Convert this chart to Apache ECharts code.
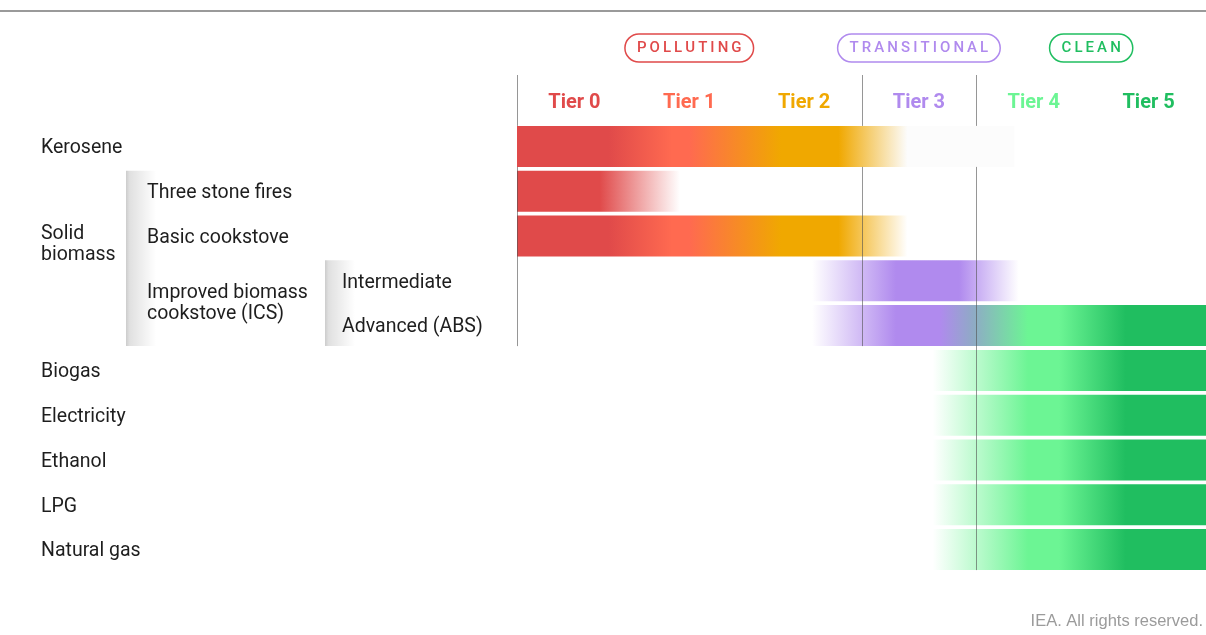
<!DOCTYPE html>
<html>
<head>
<meta charset="utf-8">
<title>Cooking tiers</title>
<script src="https://cdn.jsdelivr.net/npm/echarts@6/dist/echarts.min.js"></script>
<style>
  html, body { margin: 0; padding: 0; background: #fff; }
  #chart { width: 1206px; height: 635px; }
</style>
</head>
<body>
<div id="chart"></div>
<script>
// Cooking fuels and stoves placed on the tier scale (0 = most polluting, 5 = cleanest)
const fuels = ['Kerosene', 'Three stone fires', 'Basic cookstove', 'Intermediate', 'Advanced (ABS)',
               'Biogas', 'Electricity', 'Ethanol', 'LPG', 'Natural gas'];
// Tier span covered by each row's band, in tier units (bands fade out towards their open ends)
const tierFrom = [0, 0, 0, 2.57, 2.57, 3.62, 3.62, 3.62, 3.62, 3.62];
const tierTo   = [4.33, 1.42, 3.4, 4.37, 6, 6, 6, 6, 6, 6];

const tiers = ['Tier 0', 'Tier 1', 'Tier 2', 'Tier 3', 'Tier 4', 'Tier 5'];

const groups    = ['POLLUTING', 'TRANSITIONAL', 'CLEAN'];
const groupFrom = [0, 3, 4];
const groupTo   = [3, 4, 6];

// Tier boundaries drawn as rules, and the last row each rule runs down to
const boundaries      = [0, 3, 4];
const boundaryLastRow = [4, 4, 9];

// Row label tree: text, nesting level and row position it is centred on
const labelText  = ['Kerosene', 'Solid\nbiomass', 'Three stone fires', 'Basic cookstove',
                    'Improved biomass\ncookstove (ICS)', 'Intermediate', 'Advanced (ABS)',
                    'Biogas', 'Electricity', 'Ethanol', 'LPG', 'Natural gas'];
const labelLevel = [0, 0, 1, 1, 1, 2, 2, 0, 0, 0, 0, 0];
const labelRow   = [0, 2.15, 1, 2, 3.46, 3, 4, 5, 6, 7, 8, 9];

// Shaded brackets that group the sub-rows
const bracketLevel = [1, 2];
const bracketFrom  = [1, 3];
const bracketTo    = [4, 4];

// ---- styling ----
const RED = '#E04A4A', CORAL = '#FF6A50', ORANGE = '#F0A800',
      PURPLE = '#B08AEE', MINT = '#6CF594', GREEN = '#20BE60';
const tierColors  = [RED, CORAL, ORANGE, PURPLE, MINT, GREEN];
const groupColors = [RED, PURPLE, GREEN];

// Colour ramps along the tier axis: [tier, colour]
const ramps = {
  kerosene: [[0, RED], [0.8, RED], [1.35, CORAL], [1.5, CORAL], [2.3, ORANGE], [2.8, ORANGE],
             [3.4, '#fcfcfc'], [4.33, '#fcfcfc']],
  threeStone: [[0, RED], [0.72, RED], [1.42, 'rgba(224,74,74,0)']],
  basic: [[0, RED], [0.8, RED], [1.35, CORAL], [1.5, CORAL], [2.3, ORANGE], [2.8, ORANGE],
          [3.4, 'rgba(240,168,0,0)']],
  intermediate: [[2.57, 'rgba(176,138,238,0)'], [3.3, PURPLE], [3.85, PURPLE], [4.37, 'rgba(176,138,238,0)']],
  advanced: [[2.57, 'rgba(176,138,238,0)'], [3.3, PURPLE], [3.68, PURPLE], [3.97, '#8FAAC6'],
             [4.45, MINT], [4.72, MINT], [5.3, GREEN], [6, GREEN]],
  clean: [[3.62, 'rgba(108,245,148,0)'], [4.45, MINT], [4.72, MINT], [5.3, GREEN], [6, GREEN]]
};
const rowRamp = ['kerosene', 'threeStone', 'basic', 'intermediate', 'advanced',
                 'clean', 'clean', 'clean', 'clean', 'clean'];

const BAR_RATIO = 0.915;
const HEADER_H = 49;         // header band above the first row (tier names)
const levelX = [41, 147, 342];
const bracketX = [0, 126, 325];
const LABEL_FONT = '400 19.5px Roboto, "Noto Sans", sans-serif';

const clamp01 = v => Math.max(0, Math.min(1, v));
const crisp = x => Math.round(x) + 0.5;

function renderBand(params, api) {
  const i = params.dataIndex;
  const from = api.value(0), row = api.value(1), to = api.value(2);
  const p0 = api.coord([from, row]);
  const p1 = api.coord([to, row]);
  const h = api.size([0, 1])[1] * BAR_RATIO;
  const stops = ramps[rowRamp[i]].map(([t, c]) => ({ offset: clamp01((t - from) / (to - from)), color: c }));
  return {
    type: 'rect',
    shape: { x: p0[0], y: p0[1] - h / 2, width: p1[0] - p0[0], height: h },
    style: { fill: new echarts.graphic.LinearGradient(0, 0, 1, 0, stops) }
  };
}

function renderRule(params, api) {
  const x = crisp(api.coord([api.value(0), 0])[0]);
  const h = api.size([0, 1])[1] * BAR_RATIO;
  const firstY = api.coord([0, 0])[1];
  const endY = api.coord([0, api.value(1)])[1] + h / 2;
  const top = params.coordSys.y - HEADER_H;
  const st = { stroke: 'rgba(80,80,80,0.6)', lineWidth: 1 };
  return {
    type: 'group',
    children: [
      { type: 'line', shape: { x1: x, y1: top, x2: x, y2: firstY - h / 2 }, style: st },
      { type: 'line', shape: { x1: x, y1: firstY + h / 2, x2: x, y2: endY }, style: st }
    ]
  };
}

function renderTierLabel(params, api) {
  const i = params.dataIndex;
  const x = api.coord([api.value(0), 0])[0];
  const y = params.coordSys.y - 21;
  return {
    type: 'text',
    style: {
      text: tiers[i], x: x, y: y, align: 'center', verticalAlign: 'middle',
      font: '700 20px Roboto, sans-serif', fill: tierColors[i]
    }
  };
}

function renderGroup(params, api) {
  const i = params.dataIndex;
  const x0 = api.coord([api.value(0), 0])[0];
  const x1 = api.coord([api.value(1), 0])[0];
  const y = params.coordSys.y - 76;
  const spaced = groups[i].split('').join('\u2009');
  return {
    type: 'text',
    style: {
      text: spaced, x: (x0 + x1) / 2, y: y, align: 'center', verticalAlign: 'middle',
      font: '500 15px Roboto, sans-serif', fill: groupColors[i],
      lineHeight: 17, padding: [6, 12, 5, 12],
      borderColor: groupColors[i], borderWidth: 1.5, borderRadius: 15
    }
  };
}

function renderRowLabel(params, api) {
  const i = params.dataIndex;
  const y = api.coord([0, api.value(1)])[1] + 2;
  return {
    type: 'text',
    style: {
      text: labelText[i], x: levelX[labelLevel[i]], y: y,
      align: 'left', verticalAlign: 'middle',
      font: LABEL_FONT, fill: '#1e1e1e', lineHeight: 21.5
    }
  };
}

function renderBracket(params, api) {
  const i = params.dataIndex;
  const h = api.size([0, 1])[1] * BAR_RATIO;
  const y0 = api.coord([0, api.value(0)])[1] - h / 2;
  const y1 = api.coord([0, api.value(1)])[1] + h / 2;
  return {
    type: 'rect',
    shape: { x: bracketX[bracketLevel[i]], y: y0, width: 30, height: y1 - y0 },
    style: {
      fill: new echarts.graphic.LinearGradient(0, 0, 1, 0, [
        { offset: 0, color: 'rgba(0,0,0,0.2)' },
        { offset: 0.12, color: 'rgba(0,0,0,0.12)' },
        { offset: 1, color: 'rgba(0,0,0,0)' }
      ])
    }
  };
}

const chart = echarts.init(document.getElementById('chart'), null, { renderer: 'canvas' });
chart.setOption({
  animation: false,
  backgroundColor: '#ffffff',
  grid: { left: 517, right: 0, top: 124, bottom: 63 },
  xAxis: { type: 'value', min: 0, max: 6, show: false },
  yAxis: { type: 'value', min: -0.5, max: 9.5, inverse: true, show: false },
  graphic: [
    { type: 'line', shape: { x1: 0, y1: 11, x2: 1206, y2: 11 }, style: { stroke: '#9a9a9a', lineWidth: 2 } },
    {
      type: 'text', right: 3, top: 613,
      style: { text: 'IEA. All rights reserved.', font: '16.5px "Liberation Sans", Arial, sans-serif', fill: '#9b9b9b' }
    }
  ],
  series: [
    {
      name: 'bands', type: 'custom', z: 2, clip: false,
      renderItem: renderBand,
      data: fuels.map((f, i) => [tierFrom[i], i, tierTo[i]])
    },
    {
      name: 'rules', type: 'custom', z: 3, clip: false,
      renderItem: renderRule,
      data: boundaries.map((b, i) => [b, boundaryLastRow[i]])
    },
    {
      name: 'tiers', type: 'custom', z: 4, clip: false,
      renderItem: renderTierLabel,
      data: tiers.map((t, i) => [i + 0.5, 0])
    },
    {
      name: 'groups', type: 'custom', z: 4, clip: false,
      renderItem: renderGroup,
      data: groups.map((g, i) => [groupFrom[i], groupTo[i]])
    },
    {
      name: 'brackets', type: 'custom', z: 1, clip: false,
      renderItem: renderBracket,
      data: bracketLevel.map((l, i) => [bracketFrom[i], bracketTo[i]])
    },
    {
      name: 'rowLabels', type: 'custom', z: 4, clip: false,
      renderItem: renderRowLabel,
      data: labelText.map((t, i) => [0, labelRow[i]])
    }
  ]
});
</script>
</body>
</html>
